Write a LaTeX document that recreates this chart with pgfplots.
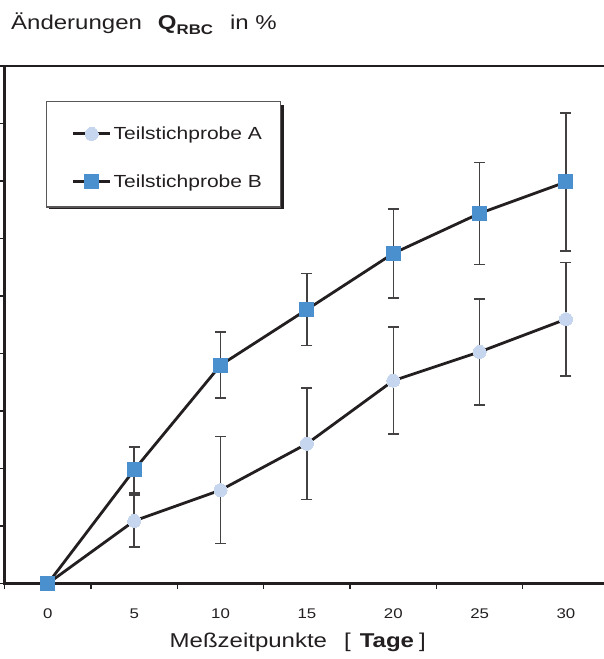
\documentclass[border=0pt]{standalone}
\usepackage{fontspec}
\setmainfont{Liberation Sans}[FakeStretch=1.2]
\usepackage{pgfplots}
\pgfplotsset{compat=1.18}
\definecolor{ptA}{RGB}{197,214,238}
\definecolor{ptB}{RGB}{74,144,207}
\definecolor{axc}{RGB}{35,31,32}
\begin{document}
\begin{tikzpicture}[x=1pt,y=1pt]
\useasboundingbox (0,0) rectangle (604,659);
\begin{axis}[
  at={(4.7pt,75.5pt)}, anchor=south west,
  scale only axis, width=602pt, height=517.5pt,
  xmin=-2.5, xmax=32.36, ymin=0, ymax=9,
  axis line style={axc, line width=2.7pt},
  xtick={-2.5,2.5,7.5,12.5,17.5,22.5,27.5,32.5}, xticklabels={},
  extra x ticks={0,5,10,15,20,25,30},
  extra x tick style={major tick length=0pt},
  ytick={0,1,2,3,4,5,6,7,8,9}, yticklabels={},
  xtick pos=bottom, ytick pos=left, tick align=outside,
  major tick length=5.5pt,
  tick style={axc, line width=1.3pt},
  /pgf/number format/assume math mode=true,
  tick label style={font=\fontsize{14}{14}\selectfont, yshift=-22pt, text=axc},
  legend style={at={(axis description cs:0.0681,0.9324)}, anchor=north west,
    draw=axc!75, line width=1.4pt, fill=white,
    inner xsep=16.5pt, inner ysep=16.2pt, row sep=22.7pt,
    font=\fontsize{17.5}{17.5}\selectfont, text=axc},
  legend cell align=left,
  legend image code/.code={\path (0pt,0pt) (0pt,14.6pt); \draw[mark repeat=2,mark phase=2,#1] plot coordinates {(9pt,0pt)(27.5pt,0pt)(46pt,0pt)};},
  error bars/error bar style={axc!85, line width=1.5pt},
  error bars/error mark options={rotate=90, mark size=5.5pt, line width=1.5pt, axc!85},
]
\fill[axc] (rel axis cs:0.0731,0.9256) rectangle (rel axis cs:0.4640,0.7246);
\addplot[axc, line width=2.8pt, mark=*, mark size=6.5pt, mark options={solid, draw=ptA, fill=ptA, line width=0pt},
  error bars/.cd, y dir=both, y explicit]
  coordinates {
  (0,0) +- (0,0)
  (5,1.089) +- (0,0.45)
  (10,1.624) +- (0,0.93)
  (15,2.430) +- (0,0.97)
  (20,3.528) +- (0,0.93)
  (25,4.028) +- (0,0.92)
  (30,4.596) +- (0,0.99)
  };
\addlegendentry{Teilstichprobe A}
\addplot[axc, line width=2.8pt, mark=square*, mark size=7pt, mark options={solid, draw=ptB, fill=ptB, line width=0pt},
  error bars/.cd, y dir=both, y explicit]
  coordinates {
  (0,0) +- (0,0)
  (5,1.977) +- (0,0.40)
  (10,3.798) +- (0,0.575)
  (15,4.765) +- (0,0.625)
  (20,5.741) +- (0,0.775)
  (25,6.437) +- (0,0.886)
  (30,6.983) +- (0,1.2)
  };
\addlegendentry{Teilstichprobe B}
\end{axis}
\node[anchor=base west, inner sep=0, font=\fontsize{20}{24}\selectfont, text=axc] at (11,629.5)
  {Änderungen\hspace{16pt}\textbf{Q}\raisebox{-5pt}{\fontsize{14}{14}\selectfont\textbf{RBC}}\hspace{17pt}in \%};
\node[anchor=base west, inner sep=0, font=\fontsize{20}{24}\selectfont, text=axc] at (169.5,11.3)
  {Meßzeitpunkte\hspace{17pt}[\hspace{9pt}\textbf{Tage}\hspace{5pt}]};
\end{tikzpicture}
\end{document}
